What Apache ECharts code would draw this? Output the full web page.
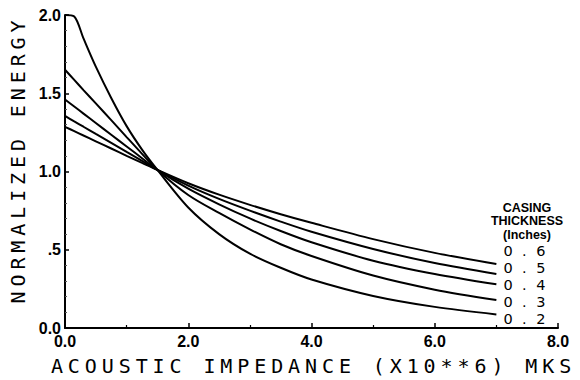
<!DOCTYPE html>
<html><head><meta charset="utf-8">
<script src="https://cdn.jsdelivr.net/npm/echarts@6/dist/echarts.min.js"></script>
<style>
html,body{margin:0;padding:0;background:#fff;}
#c{width:580px;height:380px;}
text[style*="monospace"]{letter-spacing:4.9px;}
text[style*="Liberation Mono"]{letter-spacing:9.5px;}
</style></head><body><div id="c"></div>
<script>
// Acoustic impedance (x10**6 MKS) sample positions
const impedance = [0, 0.15, 0.3, 0.5, 0.75, 1.0, 1.25, 1.5, 2.0, 2.5, 3.0, 3.5, 4.0, 5.0, 6.0, 7.0];
// Casing thickness (inches) for each curve
const thickness = ['0.2', '0.3', '0.4', '0.5', '0.6'];
// Normalized energy for each casing thickness
const energy02 = [2.0, 1.99, 1.85, 1.67, 1.47, 1.29, 1.14, 1.01, 0.77, 0.60, 0.475, 0.385, 0.31, 0.205, 0.135, 0.087];
const energy03 = [1.65, 1.585, 1.52, 1.435, 1.328, 1.22, 1.113, 1.01, 0.85, 0.735, 0.63, 0.535, 0.46, 0.335, 0.245, 0.179];
const energy04 = [1.46, 1.415, 1.37, 1.31, 1.235, 1.16, 1.085, 1.01, 0.89, 0.79, 0.70, 0.62, 0.548, 0.43, 0.345, 0.279];
const energy05 = [1.355, 1.32, 1.286, 1.24, 1.183, 1.125, 1.068, 1.01, 0.91, 0.825, 0.75, 0.68, 0.615, 0.505, 0.415, 0.345];
const energy06 = [1.285, 1.258, 1.23, 1.193, 1.147, 1.10, 1.055, 1.01, 0.925, 0.852, 0.787, 0.727, 0.672, 0.568, 0.48, 0.409];
// Tick labels
const xTickLabels = ['0.0', '2.0', '4.0', '6.0', '8.0'];
const yTickLabels = ['0.0', '.5', '1.0', '1.5', '2.0'];
const xTitle = 'ACOUSTIC IMPEDANCE (X10**6) MKS';
const yTitle = 'NORMALIZED ENERGY';
const legendTitle = 'CASING\nTHICKNESS\n(Inches)';

const energies = [energy02, energy03, energy04, energy05, energy06];
const labelOffsets = [[0, 4.6], [0, 2], [0, 0.7], [0, -6], [0, -13]];

const chart = echarts.init(document.getElementById('c'), null, {renderer: 'svg'});
const tickFont = {fontFamily: '"Liberation Sans", Arial, sans-serif', fontWeight: 'bold', fontSize: 16, color: '#000'};
const nameFont = {fontFamily: '"DejaVu Sans Mono", monospace', fontSize: 20, color: '#000'};

chart.setOption({
  animation: false,
  backgroundColor: '#fff',
  grid: {left: 65, right: 22, top: 15, bottom: 52, containLabel: false, outerBoundsMode: 'none'},
  xAxis: {
    type: 'value', min: 0, max: 8, interval: 2,
    name: xTitle, nameLocation: 'middle', nameGap: 28,
    nameTextStyle: Object.assign({padding: [0, 0, 0, 4]}, nameFont),
    axisLine: {show: true, lineStyle: {color: '#000', width: 2}},
    axisTick: {show: true, inside: true, length: 5, lineStyle: {color: '#000', width: 1.5}},
    minorTick: {show: true, splitNumber: 2, length: 3, lineStyle: {color: '#000', width: 1.2}},
    splitLine: {show: false},
    axisLabel: Object.assign({margin: 5, formatter: v => xTickLabels[Math.round(v / 2)]}, tickFont)
  },
  yAxis: {
    type: 'value', min: 0, max: 2, interval: 0.5,
    name: yTitle, nameLocation: 'middle', nameGap: 34,
    nameTextStyle: Object.assign({padding: [0, 0, 0, 24]}, nameFont),
    axisLine: {show: true, lineStyle: {color: '#000', width: 2}},
    axisTick: {show: true, inside: true, length: 4, lineStyle: {color: '#000', width: 1.5}},
    minorTick: {show: true, splitNumber: 5, length: 2, lineStyle: {color: '#555', width: 1}},
    splitLine: {show: false},
    axisLabel: Object.assign({margin: 4, formatter: v => yTickLabels[Math.round(v / 0.5)]}, tickFont)
  },
  graphic: [{
    type: 'text', x: 527, y: 201,
    style: {text: legendTitle, fontFamily: '"Liberation Sans", Arial, sans-serif', fontWeight: 'bold',
            fontSize: 12.5, lineHeight: 13.5, align: 'center', verticalAlign: 'top', fill: '#000'}
  }],
  series: thickness.map((t, i) => ({
    type: 'line', name: t,
    data: impedance.map((x, j) => [x, energies[i][j]]),
    smooth: 0.3, showSymbol: false, symbol: 'none', clip: false,
    lineStyle: {color: '#000', width: 2},
    endLabel: {
      show: true, formatter: () => t, distance: 7, offset: labelOffsets[i],
      fontFamily: '"DejaVu Sans", "Liberation Mono"', fontSize: 14.5, lineHeight: 13, color: '#000'
    }
  }))
});
</script></body></html>
